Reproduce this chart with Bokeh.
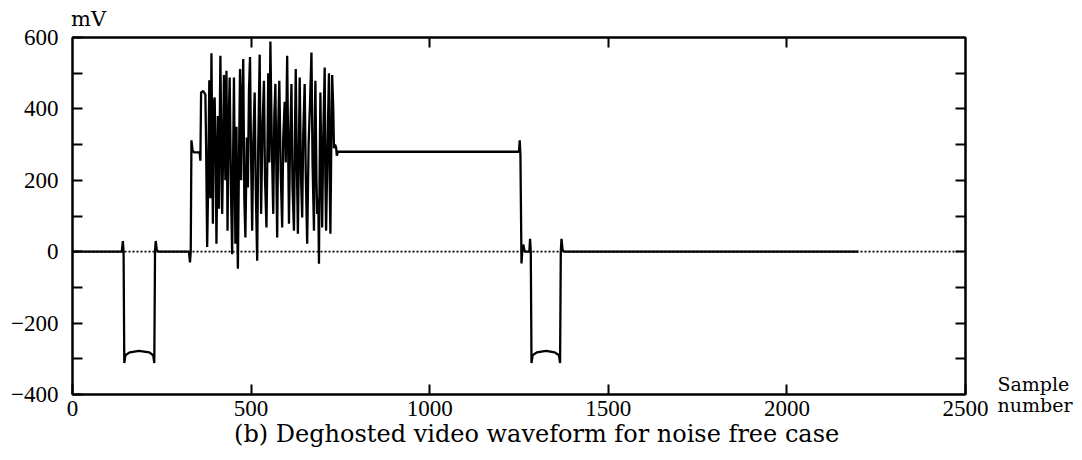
from bokeh.plotting import figure
from bokeh.models import Range1d, LinearAxis, FixedTicker, Span
from bokeh.embed import file_html
from bokeh.resources import INLINE

# ---------------- data ----------------
sample_idx = [
    0, 138, 141, 143, 145, 148, 160, 186, 215, 226, 229, 231, 233, 236, 240,
    326, 329, 331, 333, 336, 340, 356, 358,
    360, 366, 372, 374, 377, 380, 383, 386, 389, 393, 396, 398, 401, 403, 407, 410,
    414, 419, 422, 424, 428, 431, 434, 437, 440, 444, 447, 450, 452, 456, 459, 461,
    463, 466, 469, 472, 475, 478, 481, 484, 488, 491, 494, 497, 500, 503, 506, 510,
    513, 517, 520, 524, 528, 532, 536, 539, 543, 546, 548, 551, 554, 558, 562, 565,
    568, 571, 573, 576, 579, 583, 587, 590, 594, 597, 601, 606, 609, 613, 616, 620,
    623, 625, 628, 631, 634, 636, 640, 643, 646, 650, 653, 657, 661, 665, 669, 672,
    676, 678, 680, 683, 685, 688, 690, 692, 694, 697, 699, 702, 706, 708, 710, 714,
    718, 720, 722, 725, 727, 730, 732, 735, 738, 740, 743,
    1250, 1252, 1254, 1257, 1259, 1262, 1266, 1279, 1281, 1283, 1285, 1288, 1300,
    1326, 1350, 1362, 1365, 1367, 1369, 1372, 1376, 2200,
]
voltage_mv = [
    0, 0, 30, 0, -312, -290, -282, -278, -282, -290, -312, 0, 30, 5, 0,
    0, -30, 0, 312, 285, 278, 278, 255,
    446, 450, 440, 300, 13, 200, 480, 150, 556, 78, 420, 432, 250, 22, 380, 120,
    549, 106, 300, 495, 200, 507, 59, 350, 488, 150, -7, 300, 488, 22, 350, 100,
    -48, 250, 512, 200, 420, 540, 150, 40, 320, 180, 450, 545, 260, 59, 300, 446,
    180, -25, 300, 552, 106, 350, 479, 200, 68, 300, 500, 250, 589, 300, 106, 380,
    470, 200, 40, 350, 479, 220, 68, 320, 420, 250, 549, 78, 300, 470, 180, 59,
    350, 512, 250, 50, 300, 488, 200, 96, 330, 470, 220, 22, 300, 420, 558, 250,
    59, 350, 479, 200, 106, 150, -34, 250, 446, 200, 68, 320, 516, 200, 59, 300,
    500, 200, 50, 350, 495, 400, 290, 300, 292, 269, 280,
    280, 312, 270, -33, 0, 20, 0, 0, 36, 0, -312, -290, -282,
    -278, -282, -290, -312, 0, 36, 5, 0, 0,
]
x_ticks = [0, 500, 1000, 1500, 2000, 2500]
y_ticks = [-400, -200, 0, 200, 400, 600]
y_minor_ticks = [-300, -100, 100, 300, 500]
y_tick_labels = {-400: "\u2212400", -200: "\u2212200", 0: "0", 200: "200", 400: "400", 600: "600"}
right_ticks = [-300, -200, -100, 0, 100, 200, 300, 400, 500]
top_ticks = [500, 1000, 1500, 2000]
x_min, x_max = 0, 2500
y_min, y_max = -400, 600

y_unit_text = "mV"
x_unit_text = "Sample\nnumber"
caption_text = "(b)  Deghosted video waveform for noise free case"

TICK_FONT = "Liberation Serif"
TEXT_FONT = "DejaVu Serif"

p = figure(width=1082, height=460, output_backend="svg", toolbar_location=None,
           x_range=Range1d(x_min, x_max), y_range=Range1d(y_min, y_max),
           x_axis_location=None, y_axis_location=None,
           min_border_left=72, min_border_right=117, min_border_top=37, min_border_bottom=66)
p.xgrid.visible = False
p.ygrid.visible = False
p.outline_line_color = "black"
p.outline_line_width = 2
p.background_fill_color = "white"
p.border_fill_color = "white"

common = dict(axis_line_color="black", axis_line_width=2,
              major_tick_line_color="black", major_tick_line_width=2,
              minor_tick_line_color="black", minor_tick_line_width=2,
              major_tick_in=10, major_tick_out=0, minor_tick_in=10, minor_tick_out=0,
              major_label_text_font=TICK_FONT, major_label_text_font_size="23px",
              major_label_text_color="black")

ax_left = LinearAxis(ticker=FixedTicker(ticks=y_ticks, minor_ticks=y_minor_ticks),
                     major_label_overrides=y_tick_labels, major_label_standoff=14, **common)
p.add_layout(ax_left, "left")

ax_bottom = LinearAxis(ticker=FixedTicker(ticks=x_ticks), major_label_standoff=6, **common)
p.add_layout(ax_bottom, "below")

# right axis: inward ticks every 100 mV, and the "Sample number" unit text at the bottom
ax_right = LinearAxis(ticker=FixedTicker(ticks=[y_min], minor_ticks=right_ticks),
                      major_label_overrides={y_min: x_unit_text}, **common)
ax_right.major_tick_in = 0
ax_right.major_label_standoff = 32
ax_right.major_label_text_font = TEXT_FONT
ax_right.major_label_text_font_size = "19px"
ax_right.major_label_text_line_height = 0.95
p.add_layout(ax_right, "right")

# top axis: inward ticks every 500 samples, and the "mV" unit text at the upper left
ax_top = LinearAxis(ticker=FixedTicker(ticks=[45], minor_ticks=top_ticks),
                    major_label_overrides={45: y_unit_text}, **common)
ax_top.major_tick_in = 0
ax_top.major_label_standoff = 7
ax_top.major_label_text_font = TEXT_FONT
ax_top.major_label_text_font_size = "21px"
p.add_layout(ax_top, "above")

# caption, as an unlined axis below the sample axis
ax_caption = LinearAxis(ticker=FixedTicker(ticks=[1310]),
                        major_label_overrides={1310: caption_text},
                        axis_line_color=None, major_tick_line_color=None,
                        major_tick_in=0, major_tick_out=0, major_label_standoff=1,
                        major_label_text_font=TEXT_FONT, major_label_text_font_size="24px",
                        major_label_text_color="black")
p.add_layout(ax_caption, "below")

# dotted zero reference line
p.add_layout(Span(location=0, dimension="width", line_color="black",
                  line_width=1.8, line_dash="2 2"))

# waveform
p.line(sample_idx, voltage_mv, line_color="black", line_width=2.3)

open("out.html", "w").write(file_html(p, INLINE))
